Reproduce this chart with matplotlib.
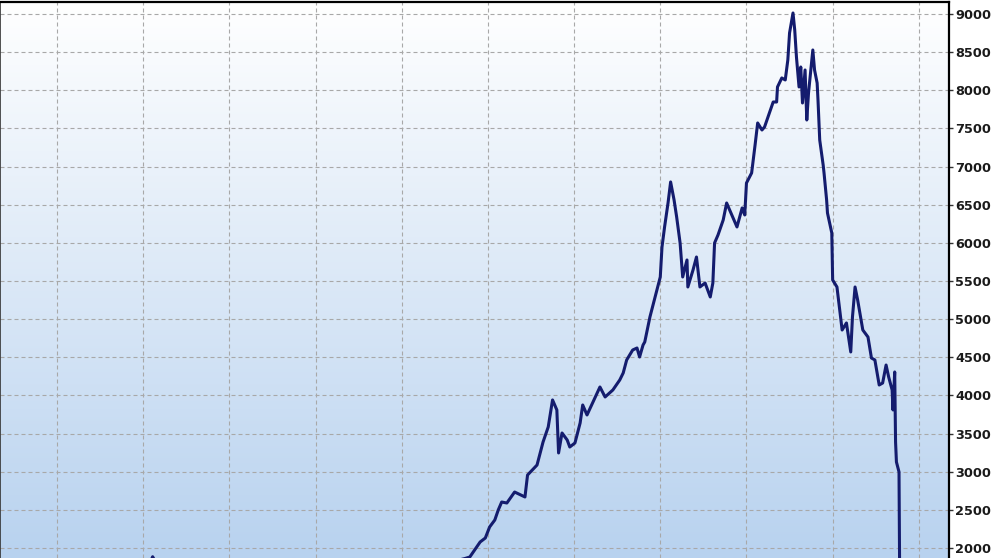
import numpy as np
import matplotlib
matplotlib.use('Agg')
import matplotlib.pyplot as plt
from matplotlib.colors import LinearSegmentedColormap

# time axis (grid units) and index level
periods = [-0.66, 0.50, 1.08, 1.11, 1.16, 2.24, 3.40, 4.33, 4.73,
           4.79, 4.91, 4.97, 5.02, 5.08, 5.12, 5.16, 5.22, 5.31, 5.43,
           5.46, 5.57, 5.64, 5.70, 5.75, 5.80, 5.82, 5.86, 5.92, 5.95,
           6.01, 6.07, 6.10, 6.15, 6.22, 6.30, 6.36, 6.45, 6.53, 6.57,
           6.61, 6.68, 6.73, 6.76, 6.80, 6.82, 6.88, 6.94, 7.00, 7.02,
           7.05, 7.09, 7.12, 7.16, 7.19, 7.23, 7.26, 7.31, 7.32, 7.38,
           7.42, 7.46, 7.52, 7.58, 7.61, 7.63, 7.67, 7.73, 7.77, 7.83,
           7.89, 7.95, 7.98, 8.00, 8.06, 8.10, 8.13, 8.18, 8.21, 8.27,
           8.31, 8.35, 8.36, 8.41, 8.45, 8.48, 8.50, 8.54, 8.56, 8.58,
           8.61, 8.63, 8.65, 8.68, 8.70, 8.72, 8.75, 8.77, 8.79, 8.82,
           8.83, 8.85, 8.89, 8.90, 8.93, 8.94, 8.99, 9.00, 9.05, 9.11,
           9.16, 9.21, 9.23, 9.26, 9.29, 9.35, 9.41, 9.45, 9.49, 9.54,
           9.58, 9.62, 9.65, 9.69, 9.70, 9.72, 9.73, 9.74, 9.77, 9.78]
level = [1550, 1700, 1800, 1885, 1780, 1600, 1650, 1750, 1860,
         1881, 2078, 2130, 2275, 2366, 2497, 2602, 2589, 2733, 2668,
         2956, 3087, 3389, 3586, 3940, 3809, 3245, 3507, 3415, 3323,
         3376, 3638, 3874, 3743, 3913, 4110, 3979, 4071, 4202, 4294,
         4464, 4595, 4621, 4503, 4660, 4700, 5028, 5290, 5552, 5945,
         6208, 6522, 6798, 6562, 6339, 5998, 5552, 5775, 5421, 5644,
         5814, 5421, 5473, 5290, 5473, 5998, 6103, 6299, 6522, 6365,
         6208, 6457, 6365, 6784, 6916, 7283, 7571, 7479, 7519, 7715,
         7846, 7846, 8043, 8161, 8135, 8397, 8751, 9013, 8790, 8436,
         8043, 8305, 7833, 8266, 7610, 7964, 8305, 8528, 8266, 8095,
         7873, 7348, 7020, 6916, 6562, 6391, 6129, 5513, 5421, 4857,
         4949, 4569, 5028, 5421, 5251, 4857, 4765, 4490, 4464, 4136,
         4162, 4398, 4241, 4071, 3809, 4307, 3389, 3127, 2996, 1200]

y_ticks = list(range(2000, 9001, 500))
x_grid = list(range(0, 11))

fig = plt.figure(figsize=(9.92, 5.58), dpi=100)
ax = fig.add_axes([0, 0, 949 / 992, 556 / 558])

# background gradient white -> light blue
grad = LinearSegmentedColormap.from_list('bg', ['#ffffff', '#b8d2ef'])
ax.imshow(np.linspace(0, 1, 256).reshape(-1, 1), cmap=grad, aspect='auto',
          extent=[0, 1, 0, 1], transform=ax.transAxes, zorder=0)

ax.plot(periods, level, color='#141c6e', lw=2.2, zorder=3)

ax.set_xlim(-0.661, 10.35)
ax.set_ylim(1868, 9157)
ax.set_xticks(x_grid)
ax.set_yticks(y_ticks)
ax.grid(True, color='#a8a8a8', lw=0.8, linestyle=(0, (3.6, 2.7)), zorder=1)

ax.yaxis.tick_right()
ax.tick_params(axis='y', length=3, width=1, color='#333333', pad=1.5,
               labelsize=9.3, labelcolor='#1a1a1a')
ax.tick_params(axis='x', length=0, labelbottom=False)
for lab in ax.get_yticklabels():
    lab.set_fontweight('bold')

ax.spines['bottom'].set_visible(False)
ax.spines['top'].set_linewidth(1.6)
ax.spines['right'].set_linewidth(1.6)
ax.spines['left'].set_linewidth(1.2)
ax.spines['left'].set_color('#333333')

fig.savefig('out.png', dpi=100)
